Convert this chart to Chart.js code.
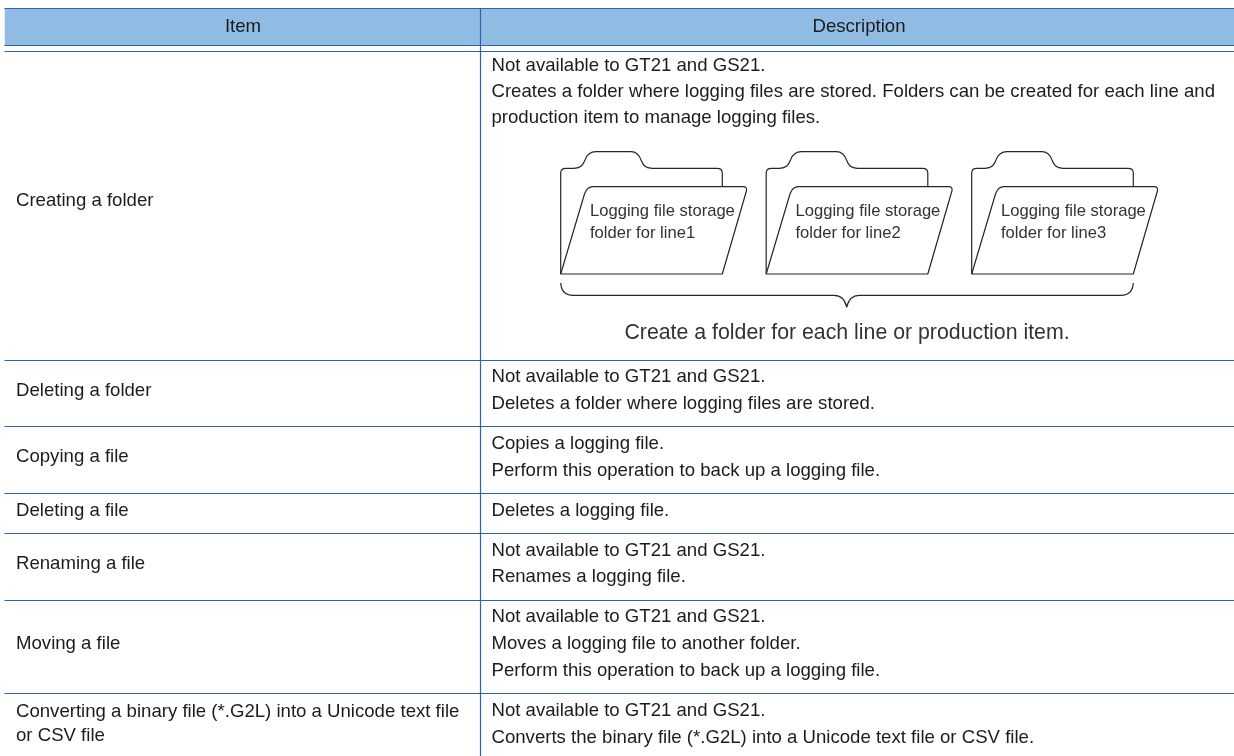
<!DOCTYPE html>
<html>
<head>
<meta charset="utf-8">
<title>Logging file operations</title>
<script src="https://cdn.jsdelivr.net/npm/chart.js@4/dist/chart.umd.min.js"></script>
<style>
  html, body { margin: 0; padding: 0; background: #fff; }
  canvas { display: block; }
</style>
</head>
<body>
<canvas id="table" width="1234" height="756"></canvas>
<script>
// table content
const headers = ['Item', 'Description'];
const items = [
  ['Creating a folder'],
  ['Deleting a folder'],
  ['Copying a file'],
  ['Deleting a file'],
  ['Renaming a file'],
  ['Moving a file'],
  ['Converting a binary file (*.G2L) into a Unicode text file', 'or CSV file']
];
const descriptions = [
  ['Not available to GT21 and GS21.', 'Creates a folder where logging files are stored. Folders can be created for each line and', 'production item to manage logging files.'],
  ['Not available to GT21 and GS21.', 'Deletes a folder where logging files are stored.'],
  ['Copies a logging file.', 'Perform this operation to back up a logging file.'],
  ['Deletes a logging file.'],
  ['Not available to GT21 and GS21.', 'Renames a logging file.'],
  ['Not available to GT21 and GS21.', 'Moves a logging file to another folder.', 'Perform this operation to back up a logging file.'],
  ['Not available to GT21 and GS21.', 'Converts the binary file (*.G2L) into a Unicode text file or CSV file.']
];
const folderLabels = ['folder for line1', 'folder for line2', 'folder for line3'];
const folderTitle = 'Logging file storage';
const caption = 'Create a folder for each line or production item.';

// table geometry, in the units of the scales
const rowEdges = [51.5, 360.5, 426.5, 493.5, 533.5, 600.5, 693.5];
const itemY = [[201], [391], [457], [511], [564], [644], [712, 736]];
const descriptionY = [[66, 92, 118], [377, 404], [444, 471], [511], [551, 577], [617, 644, 671], [711, 738]];
const headerEdges = [8.5, 45.5];
const columnEdge = 480.5;
const folderOffsets = [0, 205.5, 411];

const LINE = '#2e62ae';
const HEADER = '#90bbe2';
const TEXT = '#1c1c1c';
const SHAPE = '#262626';
const LEFT = 4.5, RIGHT = 1234;

function rule(x0, y0, x1, y1) {
  return {
    data: [{ x: x0, y: y0 }, { x: x1, y: y1 }],
    showLine: true, pointRadius: 0, borderColor: LINE, borderWidth: 1.2, order: 1
  };
}

// header band, then all the rules
const datasets = [{
  data: [{ x: LEFT, y: headerEdges[0] }, { x: RIGHT, y: headerEdges[0] }],
  showLine: true, pointRadius: 0, borderWidth: 0,
  backgroundColor: HEADER, fill: { value: headerEdges[1] }, order: 2
}];
headerEdges.concat(rowEdges).forEach(y => datasets.push(rule(LEFT, y, RIGHT, y)));
datasets.push(rule(columnEdge, headerEdges[0], columnEdge, 756));

// folders and brace of the first row
const diagramPlugin = {
  id: 'diagram',
  afterDatasetsDraw(chart) {
    const c = chart.ctx;
    const X = v => chart.scales.x.getPixelForValue(v);
    const Y = v => chart.scales.y.getPixelForValue(v);
    c.save();
    c.strokeStyle = SHAPE;
    c.lineWidth = 1.2;
    c.lineJoin = 'round';

    folderOffsets.forEach((dx, i) => {
      const x = v => X(v + dx);
      // back
      c.beginPath();
      c.moveTo(x(560.7), Y(274));
      c.lineTo(x(560.7), Y(173));
      c.quadraticCurveTo(x(560.7), Y(168.3), x(566), Y(168.3));
      c.lineTo(x(574), Y(168.3));
      c.bezierCurveTo(x(581), Y(168.3), x(583), Y(165), x(585), Y(160));
      c.quadraticCurveTo(x(588), Y(151.7), x(596), Y(151.7));
      c.lineTo(x(631), Y(151.7));
      c.quadraticCurveTo(x(638), Y(151.7), x(641), Y(160));
      c.bezierCurveTo(x(643), Y(165), x(645), Y(168.3), x(652), Y(168.3));
      c.lineTo(x(717), Y(168.3));
      c.quadraticCurveTo(x(722.3), Y(168.3), x(722.3), Y(173));
      c.lineTo(x(722.3), Y(186.7));
      c.stroke();
      // front
      c.beginPath();
      c.moveTo(x(560.7), Y(274));
      c.lineTo(x(584.5), Y(194));
      c.quadraticCurveTo(x(587), Y(186.7), x(593), Y(186.7));
      c.lineTo(x(743), Y(186.7));
      c.quadraticCurveTo(x(747.5), Y(186.7), x(746.4), Y(191));
      c.lineTo(x(722.3), Y(274));
      c.closePath();
      c.stroke();
      // label
      c.fillStyle = '#333';
      c.font = '16.6px "Liberation Sans"';
      c.textAlign = 'left';
      c.textBaseline = 'middle';
      c.fillText(folderTitle, x(590), Y(211));
      c.fillText(folderLabels[i], x(590), Y(233));
    });

    // brace
    c.beginPath();
    c.moveTo(X(560.7), Y(283));
    c.quadraticCurveTo(X(561.5), Y(295.3), X(573), Y(295.3));
    c.lineTo(X(834), Y(295.3));
    c.quadraticCurveTo(X(844), Y(295.3), X(846.7), Y(307));
    c.quadraticCurveTo(X(849.5), Y(295.3), X(859), Y(295.3));
    c.lineTo(X(1121), Y(295.3));
    c.quadraticCurveTo(X(1132.5), Y(295.3), X(1133.3), Y(283));
    c.stroke();

    c.fillStyle = '#333';
    c.font = '21.3px "Liberation Sans"';
    c.textAlign = 'center';
    c.fillText(caption, X(847), Y(333));
    c.restore();
  }
};

// cell texts
const textPlugin = {
  id: 'cellText',
  afterDraw(chart) {
    const c = chart.ctx;
    const X = v => chart.scales.x.getPixelForValue(v);
    const Y = v => chart.scales.y.getPixelForValue(v);
    c.save();
    c.fillStyle = TEXT;
    c.font = '18.6px "Liberation Sans"';
    c.textBaseline = 'middle';
    c.textAlign = 'center';
    c.fillText(headers[0], X(243), Y(27));
    c.fillText(headers[1], X(859), Y(27));
    c.textAlign = 'left';
    items.forEach((lines, r) => {
      lines.forEach((t, i) => c.fillText(t, X(16), Y(itemY[r][i])));
    });
    descriptions.forEach((lines, r) => {
      lines.forEach((t, i) => c.fillText(t, X(491.5), Y(descriptionY[r][i])));
    });
    c.restore();
  }
};

new Chart(document.getElementById('table'), {
  type: 'scatter',
  data: { datasets },
  plugins: [diagramPlugin, textPlugin],
  options: {
    responsive: false,
    animation: false,
    layout: { padding: 0 },
    plugins: { legend: { display: false }, tooltip: { enabled: false } },
    scales: {
      x: { type: 'linear', display: false, min: 0, max: 1234 },
      y: { type: 'linear', display: false, min: 0, max: 756, reverse: true }
    }
  }
});
</script>
</body>
</html>
